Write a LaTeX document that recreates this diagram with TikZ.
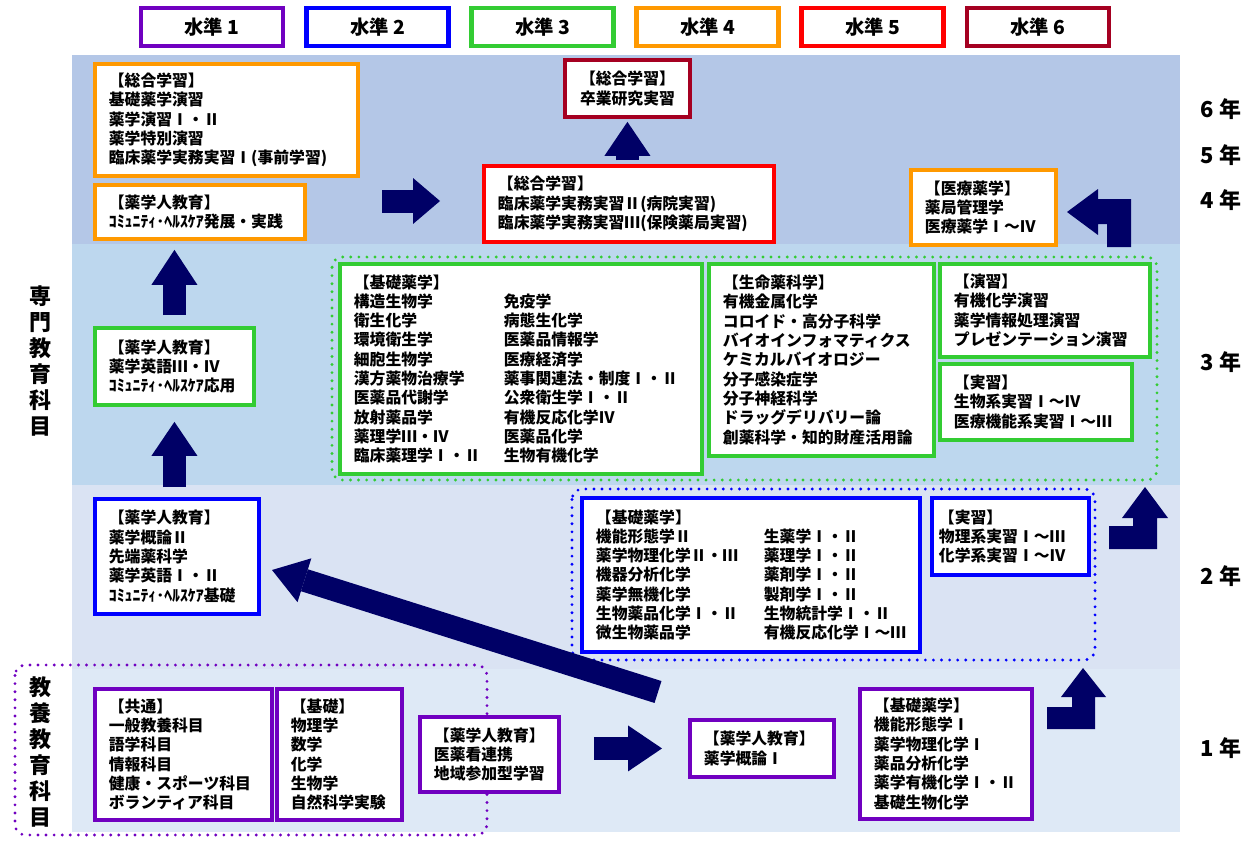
\documentclass[tikz,border=0pt]{standalone}
\usepackage{fontspec}
\usepackage{newunicodechar}
\setmainfont{Noto Sans CJK JP}
\usetikzlibrary{arrows.meta}

\definecolor{lvOne}{RGB}{112,0,192}
\definecolor{lvTwo}{RGB}{0,0,255}
\definecolor{lvThree}{RGB}{51,204,51}
\definecolor{lvFour}{RGB}{255,153,0}
\definecolor{lvFive}{RGB}{255,0,0}
\definecolor{lvSix}{RGB}{165,0,33}
\definecolor{arrowNavy}{RGB}{0,0,102}
\definecolor{bandUpper}{RGB}{180,199,231}
\definecolor{bandThird}{RGB}{189,215,238}
\definecolor{bandSecond}{RGB}{218,227,243}
\definecolor{bandFirst}{RGB}{222,233,246}

% full-width roman numerals
\newunicodechar{Ⅰ}{\makebox[1em]{\char"2160}}
\newunicodechar{Ⅱ}{\makebox[1em]{\char"2161}}
\newunicodechar{Ⅲ}{\makebox[1em]{\char"2162}}
\newunicodechar{Ⅳ}{\makebox[1em]{\char"2163}}

\newcommand{\kfont}{\fontsize{9}{11}\selectfont\bfseries}
\newcommand{\kcol}[2]{\makebox[#1][l]{#2}}

\tikzset{
  kbox/.style={draw=#1, line width=2.2pt, fill=white, font=\kfont, align=left, inner sep=0pt, anchor=north west},
  boxdim/.code 2 args={%
    \pgfmathsetmacro\kbW{#1*0.02}%
    \pgfmathsetmacro\kbH{#2*0.02}%
    \pgfmathsetmacro\kbT{(#1-28)*0.02}%
    \edef\kbSet{\noexpand\tikzset{minimum width=\kbW cm, minimum height=\kbH cm, text width=\kbT cm}}%
    \kbSet},
  lvbox/.style={draw=#1, line width=2.6pt, fill=white, minimum width=2.84cm, minimum height=0.76cm, font=\fontsize{11}{13}\selectfont\bfseries},
  yearlbl/.style={font=\fontsize{12.5}{14}\selectfont\bfseries},
  sidelbl/.style={font=\fontsize{12.5}{14.7}\selectfont\bfseries, align=center},
  grpdots/.style={draw=#1, line width=1.8pt, line cap=round, dash pattern=on 0pt off 4.6pt, rounded corners=6pt},
  fatarrow/.style={draw=arrowNavy, line width=0.46cm, -{Triangle[length=#1, width=0.92cm, line width=0pt]}},
  fatarrow/.default=0.66cm,
}

\begin{document}
\begin{tikzpicture}[x=0.02cm, y=-0.02cm]
	\useasboundingbox (0,0) rectangle (1251,842);

	% year bands
	\fill [bandUpper] (72,55) rectangle (1180,244);
	\fill [bandThird] (72,244) rectangle (1180,485);
	\fill [bandSecond] (72,485) rectangle (1180,669);
	\fill [bandFirst] (72,669) rectangle (1180,832);

	% levels
	\node [lvbox=lvOne] (lv1) at (212,27) {水準 1};
	\node [lvbox=lvTwo] (lv2) at (377.5,27) {水準 2};
	\node [lvbox=lvThree] (lv3) at (542.5,27) {水準 3};
	\node [lvbox=lvFour] (lv4) at (707.5,27) {水準 4};
	\node [lvbox=lvFive] (lv5) at (872.5,27) {水準 5};
	\node [lvbox=lvSix] (lv6) at (1038,27) {水準 6};

	% years and side labels
	\node [yearlbl] (y6) at (1221,109) {6 年};
	\node [yearlbl] (y5) at (1221,155) {5 年};
	\node [yearlbl] (y4) at (1221,200) {4 年};
	\node [yearlbl] (y3) at (1221,362) {3 年};
	\node [yearlbl] (y2) at (1221,576) {2 年};
	\node [yearlbl] (y1) at (1221,748) {1 年};
	\node [sidelbl] (senmon) at (40,361) {専\\門\\教\\育\\科\\目};
	\node [sidelbl] (kyoyo) at (40,752) {教\\養\\教\\育\\科\\目};

	% dotted groups
	\draw [grpdots=lvThree] (332,257) rectangle (1157,480);
	\draw [grpdots=lvTwo] (572,489) rectangle (1095,660);
	\draw [grpdots=lvOne] (15,665) rectangle (487,835);

	% 4-6 years
	\node [kbox=lvFour, boxdim={263}{112}] (sogoKiso) at (93,62) {【総合学習】\\基礎薬学演習\\薬学演習Ⅰ・Ⅱ\\薬学特別演習\\臨床薬学実務実習Ⅰ(事前学習)};
	\node [kbox=lvFour, boxdim={210}{54}] (jinkyoSix) at (93,183) {【薬学人教育】\\ｺﾐｭﾆﾃｨ･ﾍﾙｽｹｱ発展・実践};
	\node [kbox=lvSix, boxdim={125}{57}, align=center] (sotsuken) at (563,58) {【総合学習】\\卒業研究実習};
	\node [kbox=lvFive, boxdim={290}{76}] (rinsho) at (482,164) {【総合学習】\\臨床薬学実務実習Ⅱ(病院実習)\\臨床薬学実務実習Ⅲ(保険薬局実習)};
	\node [kbox=lvFour, boxdim={145}{75}] (iryo) at (909,168) {【医療薬学】\\薬局管理学\\医療薬学Ⅰ～Ⅳ};

	% 3rd year
	\node [kbox=lvThree, boxdim={159}{77}] (jinkyoThree) at (93,326) {【薬学人教育】\\薬学英語Ⅲ・Ⅳ\\ｺﾐｭﾆﾃｨ･ﾍﾙｽｹｱ応用};
	\node [kbox=lvThree, boxdim={362}{210}] (kisoThree) at (338,262) {【基礎薬学】\\
		\kcol{3cm}{構造生物学}免疫学\\
		\kcol{3cm}{衛生化学}病態生化学\\
		\kcol{3cm}{環境衛生学}医薬品情報学\\
		\kcol{3cm}{細胞生物学}医療経済学\\
		\kcol{3cm}{漢方薬物治療学}薬事関連法・制度Ⅰ・Ⅱ\\
		\kcol{3cm}{医薬品代謝学}公衆衛生学Ⅰ・Ⅱ\\
		\kcol{3cm}{放射薬品学}有機反応化学Ⅳ\\
		\kcol{3cm}{薬理学Ⅲ・Ⅳ}医薬品化学\\
		\kcol{3cm}{臨床薬理学Ⅰ・Ⅱ}生物有機化学};
	\node [kbox=lvThree, boxdim={225}{192}] (seimei) at (707,262) {【生命薬科学】\\有機金属化学\\コロイド・高分子科学\\バイオインフォマティクス\\ケミカルバイオロジー\\分子感染症学\\分子神経科学\\ドラッグデリバリー論\\創薬科学・知的財産活用論};
	\node [kbox=lvThree, boxdim={210}{93}] (enshu) at (938,262) {【演習】\\有機化学演習\\薬学情報処理演習\\プレゼンテーション演習};
	\node [kbox=lvThree, boxdim={192}{76}] (jisshuThree) at (938,362) {【実習】\\生物系実習Ⅰ～Ⅳ\\医療機能系実習Ⅰ～Ⅲ};

	% 2nd year
	\node [kbox=lvTwo, boxdim={164}{115}] (jinkyoTwo) at (93,497) {【薬学人教育】\\薬学概論Ⅱ\\先端薬科学\\薬学英語Ⅰ・Ⅱ\\ｺﾐｭﾆﾃｨ･ﾍﾙｽｹｱ基礎};
	\node [kbox=lvTwo, boxdim={338}{154}] (kisoTwo) at (580,496) {【基礎薬学】\\
		\kcol{3.36cm}{機能形態学Ⅱ}生薬学Ⅰ・Ⅱ\\
		\kcol{3.36cm}{薬学物理化学Ⅱ・Ⅲ}薬理学Ⅰ・Ⅱ\\
		\kcol{3.36cm}{機器分析化学}薬剤学Ⅰ・Ⅱ\\
		\kcol{3.36cm}{薬学無機化学}製剤学Ⅰ・Ⅱ\\
		\kcol{3.36cm}{生物薬品化学Ⅰ・Ⅱ}生物統計学Ⅰ・Ⅱ\\
		\kcol{3.36cm}{微生物薬品学}有機反応化学Ⅰ～Ⅲ};
	\node [kbox=lvTwo, boxdim={157}{77}, text width=2.86cm] (jisshuTwo) at (930,496) {【実習】\\物理系実習Ⅰ～Ⅲ\\化学系実習Ⅰ～Ⅳ};

	% 1st year
	\node [kbox=lvOne, boxdim={177}{131}] (kyotsu) at (93,687) {【共通】\\一般教養科目\\語学科目\\情報科目\\健康・スポーツ科目\\ボランティア科目};
	\node [kbox=lvOne, boxdim={125}{131}] (kisoIppan) at (275,687) {【基礎】\\物理学\\数学\\化学\\生物学\\自然科学実験};
	\node [kbox=lvOne, boxdim={139}{75}] (jinkyoOne) at (418,715) {【薬学人教育】\\医薬看連携\\地域参加型学習};
	\node [kbox=lvOne, boxdim={144}{57}] (gairon) at (688,718) {【薬学人教育】\\薬学概論Ⅰ};
	\node [kbox=lvOne, boxdim={172}{130}] (kisoOne) at (858,687) {【基礎薬学】\\機能形態学Ⅰ\\薬学物理化学Ⅰ\\薬品分析化学\\薬学有機化学Ⅰ・Ⅱ\\基礎生物化学};

	% straight arrows
	\coordinate (toRinsho) at (382,201);
	\draw [fatarrow=0.54cm, shorten >=0.84cm] (toRinsho) -- (toRinsho -| rinsho.west);
	\draw [fatarrow=0.68cm, shorten <=0.08cm, shorten >=0.06cm] (sotsuken.south |- rinsho.north) -- (sotsuken.south);
	\draw [fatarrow=0.7cm, shorten <=0.22cm, shorten >=0.18cm] (jinkyoThree.north) -- (jinkyoThree.north |- jinkyoSix.south);
	\draw [fatarrow=0.68cm, shorten <=0.2cm, shorten >=0.3cm] (jinkyoThree.south |- jinkyoTwo.north) -- (jinkyoThree.south);
	\draw [fatarrow=0.68cm, shorten <=0.66cm, shorten >=0.52cm] (gairon.west -| jinkyoOne.east) -- (gairon.west);
	\coordinate (diagTail) at (658,692);
	\coordinate (diagTip) at (272,570);
	\draw [fatarrow=0.68cm] (diagTail) -- (diagTip);

	% bent arrows
	\fill [arrowNavy] (1107,247) -- (1131,247) -- (1131,199) -- (1098,199) -- (1098,189) -- (1067,212) -- (1098,235) -- (1098,224) -- (1107,224) -- cycle;
	\fill [arrowNavy] (1109,526) -- (1133,526) -- (1133,518) -- (1122,518) -- (1145,487) -- (1168,518) -- (1157,518) -- (1157,549) -- (1109,549) -- cycle;
	\fill [arrowNavy] (1047,707) -- (1072,707) -- (1072,697) -- (1061,697) -- (1083,668) -- (1106,697) -- (1095,697) -- (1095,729) -- (1047,729) -- cycle;

\end{tikzpicture}
\end{document}
